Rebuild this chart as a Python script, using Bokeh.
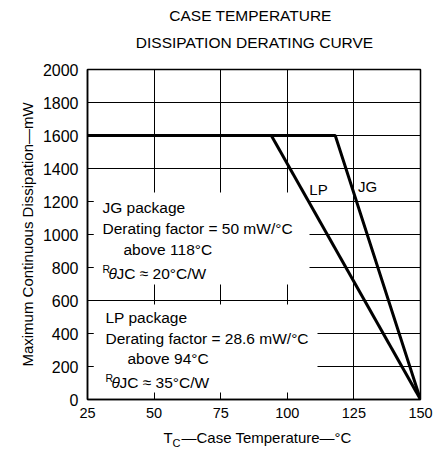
from bokeh.plotting import figure
from bokeh.models import Label, Range1d
from bokeh.layouts import column
from bokeh.core.properties import value
from bokeh.embed import file_html
from bokeh.resources import INLINE

# ---- data ----
x_ticks = [25, 50, 75, 100, 125, 150]
y_ticks = [0, 200, 400, 600, 800, 1000, 1200, 1400, 1600, 1800, 2000]
jg_temp = [25, 118, 150]
jg_power = [1600, 1600, 0]
lp_temp = [94, 150]
lp_power = [1600, 0]

title_lines = ["CASE TEMPERATURE", "DISSIPATION DERATING CURVE"]
y_label = "Maximum Continuous Dissipation\u2014mW"
x_label_parts = ["T", "C", "\u2014Case Temperature\u2014\u00b0C"]
jg_notes = ["JG package", "Derating factor = 50 mW/\u00b0C", "above 118\u00b0C", "JC \u2248 20\u00b0C/W"]
lp_notes = ["LP package", "Derating factor = 28.6 mW/\u00b0C", "above 94\u00b0C", "JC \u2248 35\u00b0C/W"]

FONT = "Liberation Sans"
W = 437
BL, BR = 87, 17  # left/right borders shared by all stacked figures

# page-pixel -> data helpers (frame spans x 87..420, y 69..399 on the page)
def dx(xp):
    return 25 + (xp - 87) * 125 / 333

def dy(yp):
    return (399 - yp) * 2000 / 330

x_range = Range1d(25, 150)

def strip(h):
    f = figure(width=W, height=h, x_range=x_range, y_range=Range1d(0, h),
               x_axis_type=None, y_axis_type=None, output_backend="svg",
               toolbar_location=None, min_border_left=BL, min_border_right=BR,
               min_border_top=0, min_border_bottom=0)
    f.outline_line_color = None
    f.xgrid.visible = False
    f.ygrid.visible = False
    return f

# ---- title strip ----
TOP_H = 60
top = strip(TOP_H)
top.text(x=[dx(250), dx(254)], y=[TOP_H - 15, TOP_H - 42], text=title_lines,
         text_align="center", text_baseline="middle", text_font=value(FONT),
         text_font_size="15.5px", text_color="black")

# ---- main plot ----
p = figure(width=W, height=365, x_range=x_range, y_range=Range1d(0, 2000),
           output_backend="svg", toolbar_location=None,
           min_border_left=BL, min_border_right=BR, min_border_top=9, min_border_bottom=26)

p.outline_line_color = "black"
p.outline_line_width = 1.5

p.xgrid.ticker = x_ticks[1:-1]
p.ygrid.ticker = y_ticks[1:-1]
for g in (p.xgrid, p.ygrid):
    g.grid_line_color = "black"
    g.grid_line_alpha = 1.0
    g.grid_line_width = 1

for ax in (p.xaxis, p.yaxis):
    ax.axis_line_color = "black"
    ax.axis_line_width = 1.5
    ax.major_tick_in = 6
    ax.major_tick_out = 0
    ax.major_tick_line_color = "black"
    ax.major_tick_line_width = 1
    ax.minor_tick_line_color = None
    ax.major_label_text_font = FONT
    ax.major_label_text_color = "black"

p.xaxis.major_label_text_font_size = "14.5px"
p.yaxis.major_label_text_font_size = "16px"
p.xaxis.ticker = x_ticks
p.yaxis.ticker = y_ticks
p.xaxis.major_label_standoff = 8
p.yaxis.major_label_standoff = 9
p.yaxis.axis_label = y_label
p.yaxis.axis_label_text_font = FONT
p.yaxis.axis_label_text_font_size = "15px"
p.yaxis.axis_label_text_font_style = "normal"
p.yaxis.axis_label_text_color = "black"
p.yaxis.axis_label_standoff = 4

# white panels behind the notes (they interrupt the grid)
p.quad(left=[dx(93), dx(93)], right=[dx(309), dx(317)],
       top=[dy(192), dy(304)], bottom=[dy(284), dy(392)],
       fill_color="white", line_color=None)

# curves
p.line(jg_temp, jg_power, line_color="black", line_width=3)
p.line(lp_temp, lp_power, line_color="black", line_width=3)

def lab(xp, yp, text, size="15.5px", align="left", style="normal"):
    p.add_layout(Label(x=dx(xp), y=dy(yp), text=text, text_align=align,
                       text_baseline="middle", text_font=FONT,
                       text_font_size=size, text_font_style=style,
                       text_color="black"))

# curve labels
lab(318, 189, "LP", size="15px", align="center")
lab(367, 186, "JG", size="15px", align="center")

# JG notes
lab(102, 207, jg_notes[0])
lab(102, 228, jg_notes[1])
lab(123, 249, jg_notes[2])
lab(102, 268, "R", size="10.5px")
lab(108, 273, "\u03b8", style="italic")
lab(116, 273, jg_notes[3])

# LP notes
lab(105, 317, lp_notes[0])
lab(105, 338, lp_notes[1])
lab(127, 358, lp_notes[2])
lab(105, 377, "R", size="10.5px")
lab(111, 382, "\u03b8", style="italic")
lab(119, 382, lp_notes[3])

# ---- x-axis title strip ----
BOT_H = 28
bot = strip(BOT_H)
bot.text(x=[dx(163), dx(181)], y=[BOT_H - 12, BOT_H - 12],
         text=[x_label_parts[0], x_label_parts[2]],
         text_align="left", text_baseline="middle", text_font=value(FONT),
         text_font_size="15px", text_color="black")
bot.text(x=[dx(172)], y=[BOT_H - 17], text=[x_label_parts[1]],
         text_align="left", text_baseline="middle", text_font=value(FONT),
         text_font_size="11px", text_color="black")

layout = column(top, p, bot, spacing=0)
open("out.html", "w").write(file_html(layout, INLINE))
